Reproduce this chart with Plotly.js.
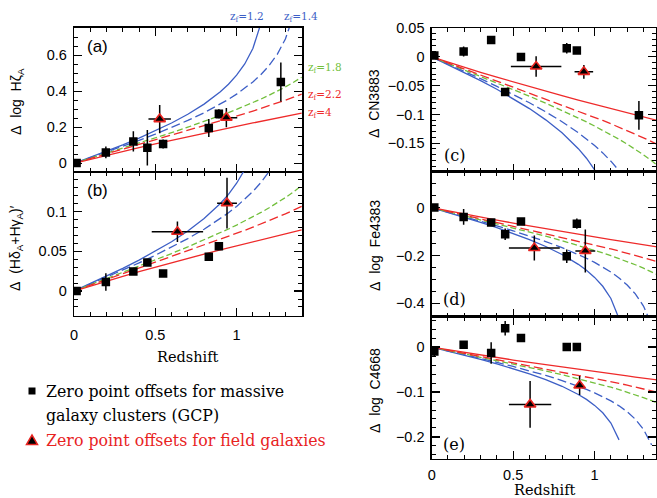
<!DOCTYPE html>
<html><head><meta charset="utf-8">
<script src="https://cdn.plot.ly/plotly-3.0.1.min.js"></script>
<style>html,body{margin:0;padding:0;background:#fff;}#chart{width:657px;height:498px;}</style>
</head><body><div id="chart"></div>
<script>
// ---------- model redshift grids ----------
const zGrid   = [0,0.1,0.2,0.3,0.4,0.5,0.6,0.7,0.8,0.9,0.95,1.0,1.05,1.1,1.15,1.2,1.25,1.3,1.35,1.4];
const zGrid14 = [0,0.1,0.2,0.3,0.4,0.5,0.6,0.7,0.8,0.9,0.95,1.0,1.05,1.1,1.15,1.2,1.25,1.3,1.35];
const zGrid12 = [0,0.1,0.2,0.3,0.4,0.5,0.6,0.7,0.8,0.9,0.95,1.0,1.05,1.1,1.15];
const zfLabels = ['z<sub>f</sub>=1.2','z<sub>f</sub>=1.4','z<sub>f</sub>=1.8','z<sub>f</sub>=2.2','z<sub>f</sub>=4'];

// ---------- panel (a): Delta log HzetaA ----------
const a_zf4  = [0,.0229,.0453,.0669,.0880,.1088,.1289,.1488,.1681,.1872,.1966,.2060,.2152,.2244,.2335,.2427,.2517,.2607,.2696,.2786];
const a_zf22 = [0,.0262,.0523,.0779,.1035,.1294,.1550,.1811,.2074,.2343,.2479,.2620,.2759,.2903,.3049,.3200,.3354,.3513,.3675,.3845];
const a_zf18 = [0,.0281,.0561,.0841,.1123,.1414,.1706,.2009,.2322,.2652,.2822,.3001,.3183,.3374,.3574,.3786,.4010,.4250,.4506,.4789];
const a_zf14 = [0,.0310,.0627,.0946,.1278,.1627,.1991,.2384,.2811,.3292,.3556,.3848,.4166,.4526,.4938,.5436,.6058,.6913,.8226];
const a_zf12 = [0,.0334,.0678,.1032,.1406,.1810,.2243,.2732,.3294,.3982,.4397,.4900,.5522,.6379,.7796];
// ---------- panel (b): Delta (HdA+HgA)' ----------
const b_zf4  = [0,.00635,.01255,.01851,.02435,.03012,.03569,.04119,.04654,.05183,.05441,.05703,.05957,.06211,.06464,.06717,.06968,.07217,.07464,.07711];
const b_zf22 = [0,.00726,.01447,.02157,.02864,.03581,.0429,.05013,.05741,.06487,.06863,.07251,.07638,.08035,.0844,.08858,.09284,.09723,.10172,.10644];
const b_zf18 = [0,.00777,.01553,.02328,.03109,.03913,.04721,.05561,.06427,.0734,.0781,.08306,.08811,.09341,.09892,.10481,.111,.11763,.12472,.13256];
const b_zf14 = [0,.00859,.01734,.0262,.03537,.04503,.0551,.066,.07782,.09112,.09843,.10653,.11533,.12527,.1367,.15046,.16769,.19134,.2277];
const b_zf12 = [0,.00923,.01876,.02858,.03891,.05009,.06209,.07562,.09118,.11023,.12172,.13565,.15286,.17657,.21581];
// ---------- panel (c): Delta CN3883 ----------
const c_zf4  = [0,-.00919,-.01815,-.02677,-.03523,-.04357,-.05162,-.05958,-.06733,-.07498,-.07871,-.0825,-.08617,-.08985,-.09351,-.09717,-.1008,-.1044,-.10797,-.11156];
const c_zf22 = [0,-.0105,-.02094,-.0312,-.04143,-.05181,-.06206,-.07252,-.08305,-.09384,-.09928,-.1049,-.1105,-.11624,-.1221,-.12814,-.1343,-.14065,-.14715,-.15398];
const c_zf18 = [0,-.01124,-.02247,-.03367,-.04498,-.0566,-.0683,-.08045,-.09298,-.10618,-.11298,-.12016,-.12746,-.13513,-.14311,-.15162,-.16058,-.17017,-.18042,-.19177];
const c_zf14 = [0,-.01243,-.02509,-.0379,-.05117,-.06515,-.07971,-.09547,-.11258,-.13181,-.14239,-.1541,-.16684,-.18122,-.19775,-.21766,-.24258,-.2768,-.3294];
const c_zf12 = [0,-.01336,-.02714,-.04134,-.05629,-.07247,-.08982,-.1094,-.13191,-.15947,-.17608,-.19623,-.22114,-.25543,-.3122];
// ---------- panel (d): Delta log Fe4383 ----------
const d_zf4  = [0,-.01365,-.02698,-.03979,-.05236,-.06476,-.07673,-.08856,-.10007,-.11144,-.11699,-.12262,-.12808,-.13355,-.13899,-.14443,-.14982,-.15518,-.16048,-.16581];
const d_zf22 = [0,-.01561,-.03112,-.04638,-.06158,-.077,-.09224,-.10779,-.12343,-.13948,-.14756,-.15591,-.16423,-.17277,-.18148,-.19045,-.19962,-.20906,-.21872,-.22886];
const d_zf18 = [0,-.0167,-.0334,-.05005,-.06686,-.08413,-.10151,-.11957,-.1382,-.15781,-.16793,-.1786,-.18945,-.20084,-.2127,-.22535,-.23868,-.25293,-.26816,-.28503];
const d_zf14 = [0,-.01847,-.03729,-.05633,-.07605,-.09683,-.11848,-.1419,-.16733,-.19592,-.21164,-.22905,-.24798,-.26936,-.29392,-.32352,-.36056,-.41143,-.4896];
const d_zf12 = [0,-.01986,-.04034,-.06144,-.08367,-.10771,-.1335,-.1626,-.19606,-.23702,-.26172,-.29167,-.32868,-.37966,-.46403];
// ---------- panel (e): Delta log C4668 ----------
const e_zf4  = [0,-.00607,-.012,-.0177,-.02329,-.02881,-.03413,-.0394,-.04452,-.04957,-.05204,-.05455,-.05698,-.05941,-.06183,-.06425,-.06665,-.06903,-.07139,-.07376];
const e_zf22 = [0,-.00695,-.01384,-.02063,-.02739,-.03426,-.04103,-.04795,-.05491,-.06205,-.06564,-.06936,-.07306,-.07686,-.08073,-.08472,-.0888,-.093,-.0973,-.10181];
const e_zf18 = [0,-.00743,-.01486,-.02226,-.02974,-.03743,-.04516,-.05319,-.06148,-.0702,-.07471,-.07945,-.08428,-.08935,-.09462,-.10025,-.10618,-.11252,-.11929,-.1268];
const e_zf14 = [0,-.00822,-.01659,-.02506,-.03383,-.04308,-.05271,-.06313,-.07444,-.08716,-.09415,-.10189,-.11032,-.11983,-.13075,-.14392,-.1604,-.18302,-.2178];
const e_zf12 = [0,-.00883,-.01794,-.02733,-.03722,-.04792,-.05939,-.07233,-.08722,-.10544,-.11643,-.12975,-.14622,-.16889,-.20643];

// ---------- cluster zero points (GCP) ----------
const clusterZ = [0.016,0.196,0.365,0.451,0.548,0.829,0.891,1.272];
const a_cl = [0.002,0.061,0.122,0.087,0.107,0.196,0.276,0.452];
const a_clErr = [0.015,0.033,0.056,0.099,0.025,0.05,0.025,0.108];
const b_cl = [0,0.0114,0.0246,0.036,0.022,0.0432,0.0564,null];
const b_clErr = [0.004,0.011,0.004,0.004,0.003,0.004,0.004,null];
const c_cl = [0.0023,0.0092,0.0294,-0.0611,0,0.015,0.011,-0.1015];
const c_clErr = [0.003,0.0087,0.005,0.005,0.003,0.009,0.006,0.025];
const d_cl = [0,-0.039,-0.0625,-0.111,-0.058,-0.203,-0.067,null];
const d_clErr = [0.01,0.033,0.01,0.024,0.01,0.028,0.021,null];
const e_cl = [-0.0096,0.0052,-0.0133,0.042,0.02,0,0,null];
const e_clErr = [0.01,0.006,0.024,0.016,0.005,0.004,0.004,null];

// ---------- field galaxies ----------
const a_fZ = [0.527,0.937], a_f = [0.246,0.254], a_fErr = [0.079,0.053], a_fZErr = [0.069,0.067];
const b_fZ = [0.636,0.941], b_f = [0.0746,0.1106], b_fErr = [0.013,0.032], b_fZErr = [0.158,0.061];
const c_fZ = [0.641,0.934], c_f = [-0.0167,-0.026], c_fErr = [0.0176,0.012], c_fZErr = [0.155,0.057];
const d_fZ = [0.63,0.943], d_f = [-0.169,-0.181], d_fErr = [0.052,0.09], d_fZErr = [0.156,0.061];
const e_fZ = [0.604,0.908], e_f = [-0.1276,-0.0855], e_fErr = [0.052,0.021], e_fZErr = [0.13,0];

// ---------- styling ----------
const W = 657, H = 498;
const X = p => p / W, Y = p => 1 - p / H;
const BLUE = '#3d5fc6', GREEN = '#72bf3c', RED = '#ee2a2a';
const curveStyles = [
  {color: BLUE,  dash: 'solid'},
  {color: BLUE,  dash: '9px,4px'},
  {color: GREEN, dash: '6px,3px'},
  {color: RED,   dash: '9px,4px'},
  {color: RED,   dash: 'solid'}
];

const panels = [
  {curves:[a_zf12,a_zf14,a_zf18,a_zf22,a_zf4], cl:a_cl, clErr:a_clErr, fZ:a_fZ, f:a_f, fErr:a_fErr, fZErr:a_fZErr},
  {curves:[b_zf12,b_zf14,b_zf18,b_zf22,b_zf4], cl:b_cl, clErr:b_clErr, fZ:b_fZ, f:b_f, fErr:b_fErr, fZErr:b_fZErr},
  {curves:[c_zf12,c_zf14,c_zf18,c_zf22,c_zf4], cl:c_cl, clErr:c_clErr, fZ:c_fZ, f:c_f, fErr:c_fErr, fZErr:c_fZErr},
  {curves:[d_zf12,d_zf14,d_zf18,d_zf22,d_zf4], cl:d_cl, clErr:d_clErr, fZ:d_fZ, f:d_f, fErr:d_fErr, fZErr:d_fZErr},
  {curves:[e_zf12,e_zf14,e_zf18,e_zf22,e_zf4], cl:e_cl, clErr:e_clErr, fZ:e_fZ, f:e_f, fErr:e_fErr, fZErr:e_fZErr}
];
const grids = [zGrid12, zGrid14, zGrid, zGrid, zGrid];

const traces = [];
panels.forEach((p, i) => {
  const xa = 'x' + (i ? i + 1 : ''), ya = 'y' + (i ? i + 1 : '');
  p.curves.forEach((c, k) => {
    traces.push({x: grids[k], y: c, xaxis: xa, yaxis: ya, mode: 'lines', name: zfLabels[k],
      line: {color: curveStyles[k].color, dash: curveStyles[k].dash, width: 1.3}, hoverinfo: 'skip'});
  });
  traces.push({x: clusterZ, y: p.cl, xaxis: xa, yaxis: ya, mode: 'markers', name: 'GCP',
    marker: {symbol: 'square', size: 8.5, color: 'black'},
    error_y: {type: 'data', array: p.clErr, color: 'black', thickness: 1.5, width: 0}});
  traces.push({x: p.fZ, y: p.f, xaxis: xa, yaxis: ya, mode: 'markers', name: 'field',
    marker: {symbol: 'triangle-up', size: 10, color: 'black', line: {color: '#e8231f', width: 1.6}},
    error_y: {type: 'data', array: p.fErr, color: 'black', thickness: 1.5, width: 0},
    error_x: {type: 'data', array: p.fZErr, color: 'black', thickness: 1.5, width: 0}});
});

const tickFont = {family: 'Liberation Sans, Arial, sans-serif', size: 14.5, color: 'black'};
function axis(domain, range, dtick, minorDtick, labels, anchor, standoff) {
  return {domain, range, anchor, tickmode: 'linear', tick0: 0, dtick,
    ticks: 'inside', ticklen: 8, tickwidth: 1.2, tickcolor: 'black',
    showline: true, linecolor: 'black', linewidth: 1.3, mirror: 'allticks',
    showgrid: false, zeroline: false, showticklabels: labels, tickfont: tickFont,
    ticklabelstandoff: standoff,
    minor: {ticks: 'inside', ticklen: 4, tickwidth: 1, tickcolor: 'black', tick0: 0, dtick: minorDtick, showgrid: false}};
}
const LX = [X(74), X(302.3)], RX = [X(431.7), 0.999];
const layout = {
  width: W, height: H, margin: {l: 0, r: 0, t: 0, b: 0},
  paper_bgcolor: 'white', plot_bgcolor: 'white', showlegend: false,
  xaxis:  axis(LX, [0, 1.404], 0.5, 0.1, false, 'y', 0),
  yaxis:  axis([Y(172), Y(27.5)], [-0.048, 0.755], 0.2, 0.05, true, 'x', 3),
  xaxis2: axis(LX, [0, 1.404], 0.5, 0.1, true, 'y2', 6),
  yaxis2: axis([Y(315.7), Y(172)], [-0.031, 0.1498], 0.05, 0.01, true, 'x2', 3),
  xaxis3: axis(RX, [0, 1.379], 0.5, 0.1, false, 'y3', 0),
  yaxis3: axis([Y(171.7), Y(28)], [-0.1995, 0.0502], 0.05, 0.01, true, 'x3', 3),
  xaxis4: axis(RX, [0, 1.379], 0.5, 0.1, false, 'y4', 0),
  yaxis4: axis([Y(316.5), Y(171.7)], [-0.455, 0.15], 0.2, 0.05, true, 'x4', 3),
  xaxis5: axis(RX, [0, 1.379], 0.5, 0.1, true, 'y5', 2),
  yaxis5: axis([Y(459), Y(316.5)], [-0.249, 0.068], 0.1, 0.02, true, 'x5', 3),
  annotations: [],
  shapes: []
};

const sans = 'Liberation Sans, Arial, sans-serif', serif = 'DejaVu Serif, Liberation Serif, serif';
function ann(text, px, py, opts) {
  layout.annotations.push(Object.assign({text, x: X(px), y: Y(py), xref: 'paper', yref: 'paper',
    showarrow: false, xanchor: 'center', yanchor: 'middle', font: {family: sans, size: 14, color: 'black'}}, opts || {}));
}
// y-axis titles
ann('Δ\u00a0\u00a0log\u00a0\u00a0Hζ<sub>A</sub>', 17, 102, {textangle: -90});
ann('Δ\u00a0\u00a0(Hδ<sub>A</sub>+Hγ<sub>A</sub>)′', 16, 248, {textangle: -90});
ann('Δ\u00a0\u00a0CN3883', 374, 104, {textangle: -90});
ann('Δ\u00a0\u00a0log\u00a0\u00a0Fe4383', 375, 246, {textangle: -90});
ann('Δ\u00a0\u00a0log\u00a0\u00a0C4668', 375, 391, {textangle: -90});
// x-axis titles
ann('Redshift', 188, 357, {font: {family: serif, size: 14.5, color: 'black'}});
ann('Redshift', 545, 490, {font: {family: serif, size: 14.5, color: 'black'}});
// panel letters
ann('(a)', 97, 46, {font: {family: sans, size: 17, color: 'black'}});
ann('(b)', 97, 190, {font: {family: sans, size: 17, color: 'black'}});
ann('(c)', 454, 155, {font: {family: serif, size: 16, color: 'black'}});
ann('(d)', 454, 299, {font: {family: serif, size: 16, color: 'black'}});
ann('(e)', 454, 444, {font: {family: serif, size: 16, color: 'black'}});
// formation redshift labels
const zfFont = c => ({family: serif, size: 10.5, color: c});
ann(zfLabels[0], 228, 17, {xanchor: 'left', font: zfFont(BLUE)});
ann(zfLabels[1], 282, 17, {xanchor: 'left', font: zfFont(BLUE)});
ann(zfLabels[2], 306, 68, {xanchor: 'left', font: zfFont(GREEN)});
ann(zfLabels[3], 306, 95, {xanchor: 'left', font: zfFont(RED)});
ann(zfLabels[4], 306, 113, {xanchor: 'left', font: zfFont(RED)});
// key
const keyFont = c => ({family: serif, size: 15.8, color: c});
ann('Zero point offsets for massive', 44, 391, {xanchor: 'left', font: keyFont('black')});
ann('galaxy clusters (GCP)', 44, 415, {xanchor: 'left', font: keyFont('black')});
ann('Zero point offsets for field galaxies', 44, 440, {xanchor: 'left', font: keyFont('#e8231f')});
layout.shapes.push({type: 'rect', xref: 'paper', yref: 'paper', x0: X(28.5), x1: X(35.5), y0: Y(394.5), y1: Y(387.5),
  fillcolor: 'black', line: {width: 0}});
layout.shapes.push({type: 'path', xref: 'paper', yref: 'paper',
  path: `M ${X(26.5)} ${Y(444.5)} L ${X(37.5)} ${Y(444.5)} L ${X(32)} ${Y(435)} Z`,
  fillcolor: 'black', line: {color: '#e8231f', width: 1.5}});

Plotly.newPlot('chart', traces, layout, {staticPlot: true, displayModeBar: false});
</script></body></html>
